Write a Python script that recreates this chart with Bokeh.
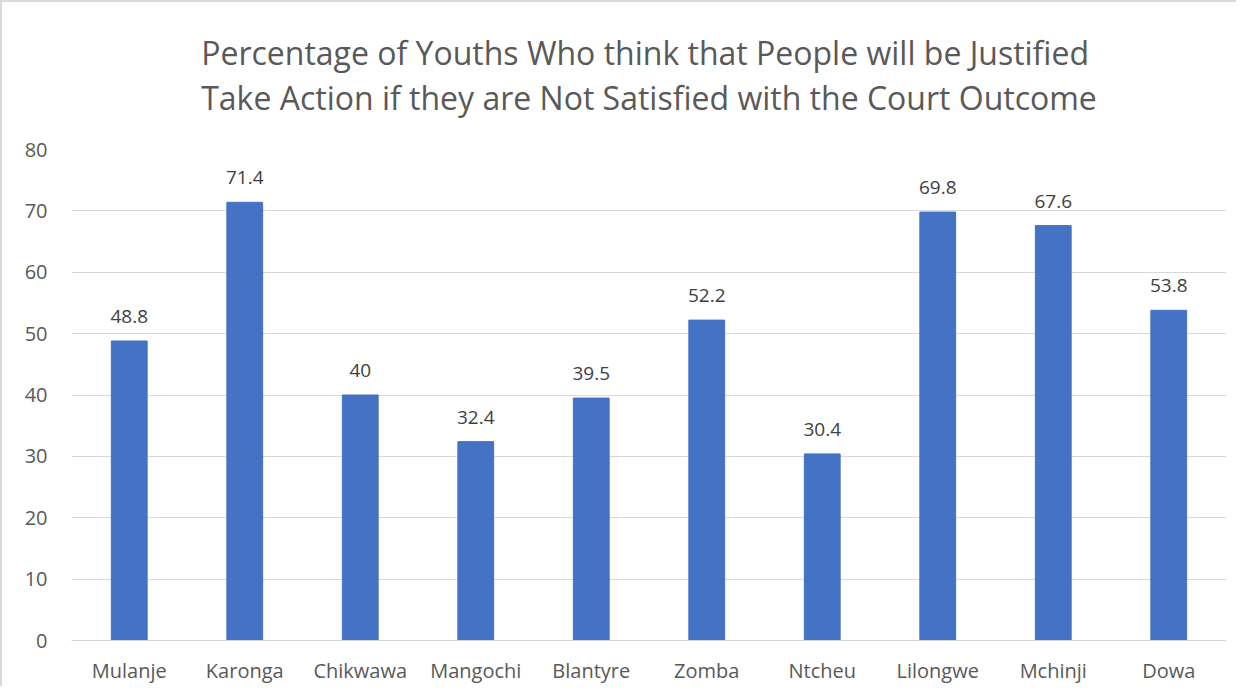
from bokeh.plotting import figure
from bokeh.models import ColumnDataSource, LabelSet
from bokeh.core.properties import value
from bokeh.embed import file_html
from bokeh.resources import INLINE

districts = ["Mulanje", "Karonga", "Chikwawa", "Mangochi", "Blantyre",
             "Zomba", "Ntcheu", "Lilongwe", "Mchinji", "Dowa"]
values = [48.8, 71.4, 40, 32.4, 39.5, 52.2, 30.4, 69.8, 67.6, 53.8]
value_labels = ["48.8", "71.4", "40", "32.4", "39.5", "52.2", "30.4", "69.8", "67.6", "53.8"]
title_lines = ["Percentage of Youths Who think that People will be Justified",
               "Take Action if they are Not Satisfied with the Court Outcome"]

FONT = "Open Sans"
src = ColumnDataSource(dict(x=districts, top=values, lab=value_labels))

p = figure(x_range=districts, y_range=(0, 80), width=1236, height=686,
           output_backend="svg", toolbar_location=None,
           min_border_left=69, min_border_right=12, min_border_top=147,
           min_border_bottom=48)
p.styles = {"border-left": "2px solid #D9D9D9", "border-top": "2px solid #D9D9D9"}
p.outline_line_color = None
p.background_fill_color = "white"

p.title.text = "\n".join(title_lines)
p.title.align = "center"
p.title.vertical_align = "top"
p.title.text_font = FONT
p.title.text_font_size = "32px"
p.title.text_font_style = "normal"
p.title.text_color = "#595959"
p.title.text_line_height = 1.05
p.title.standoff = 57

p.vbar(x="x", top="top", width=0.31, source=src, color="#4472C4")

p.add_layout(LabelSet(x="x", y="top", text="lab", source=src, y_offset=18,
                      text_align="center", text_baseline="bottom",
                      text_font=value(FONT), text_font_size="19px", text_color="#404040"))

p.yaxis.ticker = list(range(0, 81, 10))
p.ygrid.grid_line_color = "#D9D9D9"
p.ygrid.grid_line_width = 1
p.xgrid.grid_line_color = None
for ax in (p.xaxis[0], p.yaxis[0]):
    ax.axis_line_color = None
    ax.major_tick_line_color = None
    ax.minor_tick_line_color = None
    ax.major_label_text_font = FONT
    ax.major_label_text_font_size = "20px"
    ax.major_label_text_color = "#595959"
p.yaxis.major_label_standoff = 18
p.xaxis.major_label_standoff = 10
p.xaxis.axis_line_color = "#D9D9D9"

open("out.html", "w").write(file_html(p, INLINE))
